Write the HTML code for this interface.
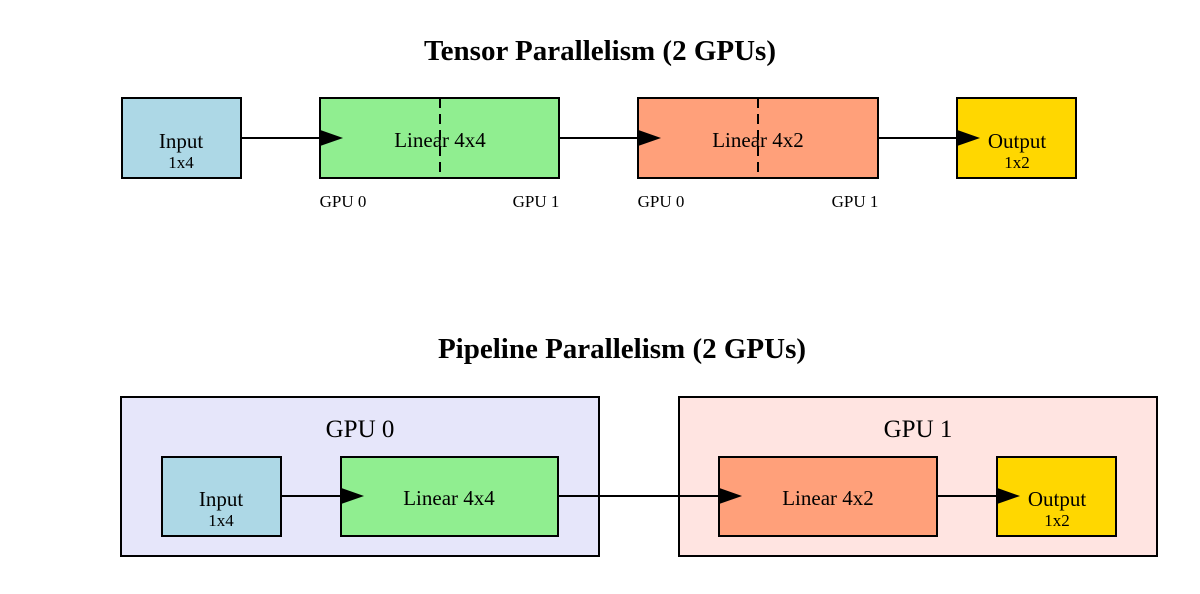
<!DOCTYPE html>
<html><head><style>
body{margin:0;background:#fff;}
svg{display:block;font-family:"Liberation Serif",serif;}
</style></head><body>
<svg width="1200" height="594" viewBox="0 0 1200 594">
<defs><marker id="a" markerWidth="10" markerHeight="10" refX="0" refY="5" orient="auto" markerUnits="userSpaceOnUse" viewBox="0 0 10 10"><path d="M0,0 L10,5 L0,10 z" fill="#000"/></marker></defs>
<g stroke="#000" stroke-width="2">
<text x="600" y="60" text-anchor="middle" font-size="29" font-weight="bold" stroke="none">Tensor Parallelism (2 GPUs)</text>
<rect x="122" y="98" width="119" height="80" fill="#add8e6"/>
<rect x="320" y="98" width="239" height="80" fill="#90ee90"/>
<rect x="638" y="98" width="240" height="80" fill="#ffa07a"/>
<rect x="957" y="98" width="119" height="80" fill="#ffd700"/>
<line x1="440" y1="98" x2="440" y2="172" stroke-dasharray="10,6"/>
<line x1="758" y1="98" x2="758" y2="172" stroke-dasharray="10,6"/>
<line x1="241" y1="138" x2="320" y2="138"/><path d="M320,131 L340,138 L320,145z" fill="#000"/>
<line x1="559" y1="138" x2="638" y2="138"/><path d="M638,131 L658,138 L638,145z" fill="#000"/>
<line x1="878" y1="138" x2="957" y2="138"/><path d="M957,131 L977,138 L957,145z" fill="#000"/>
</g>
<g font-size="21" text-anchor="middle">
<text x="181" y="148">Input</text><text x="181" y="168" font-size="17">1x4</text>
<text x="440" y="147">Linear 4x4</text>
<text x="758" y="147">Linear 4x2</text>
<text x="1017" y="148">Output</text><text x="1017" y="168" font-size="17">1x2</text>
</g>
<g font-size="17" text-anchor="middle">
<text x="343" y="207">GPU 0</text><text x="536" y="207">GPU 1</text>
<text x="661" y="207">GPU 0</text><text x="855" y="207">GPU 1</text>
</g>
<g stroke="#000" stroke-width="2">
<text x="622" y="358" text-anchor="middle" font-size="29" font-weight="bold" stroke="none">Pipeline Parallelism (2 GPUs)</text>
<rect x="121" y="397" width="478" height="159" fill="#e6e6fa"/>
<rect x="679" y="397" width="478" height="159" fill="#ffe4e1"/>
<rect x="162" y="457" width="119" height="79" fill="#add8e6"/>
<rect x="341" y="457" width="217" height="79" fill="#90ee90"/>
<rect x="719" y="457" width="218" height="79" fill="#ffa07a"/>
<rect x="997" y="457" width="119" height="79" fill="#ffd700"/>
<line x1="281" y1="496" x2="341" y2="496"/><path d="M341,489 L361,496 L341,503z" fill="#000"/>
<line x1="558" y1="496" x2="719" y2="496"/><path d="M719,489 L739,496 L719,503z" fill="#000"/>
<line x1="937" y1="496" x2="997" y2="496"/><path d="M997,489 L1017,496 L997,503z" fill="#000"/>
</g>
<g font-size="21" text-anchor="middle">
<text x="360" y="437" font-size="25">GPU 0</text>
<text x="918" y="437" font-size="25">GPU 1</text>
<text x="221" y="506">Input</text><text x="221" y="526" font-size="17">1x4</text>
<text x="449" y="505">Linear 4x4</text>
<text x="828" y="505">Linear 4x2</text>
<text x="1057" y="506">Output</text><text x="1057" y="526" font-size="17">1x2</text>
</g>
</svg>
</body></html>
